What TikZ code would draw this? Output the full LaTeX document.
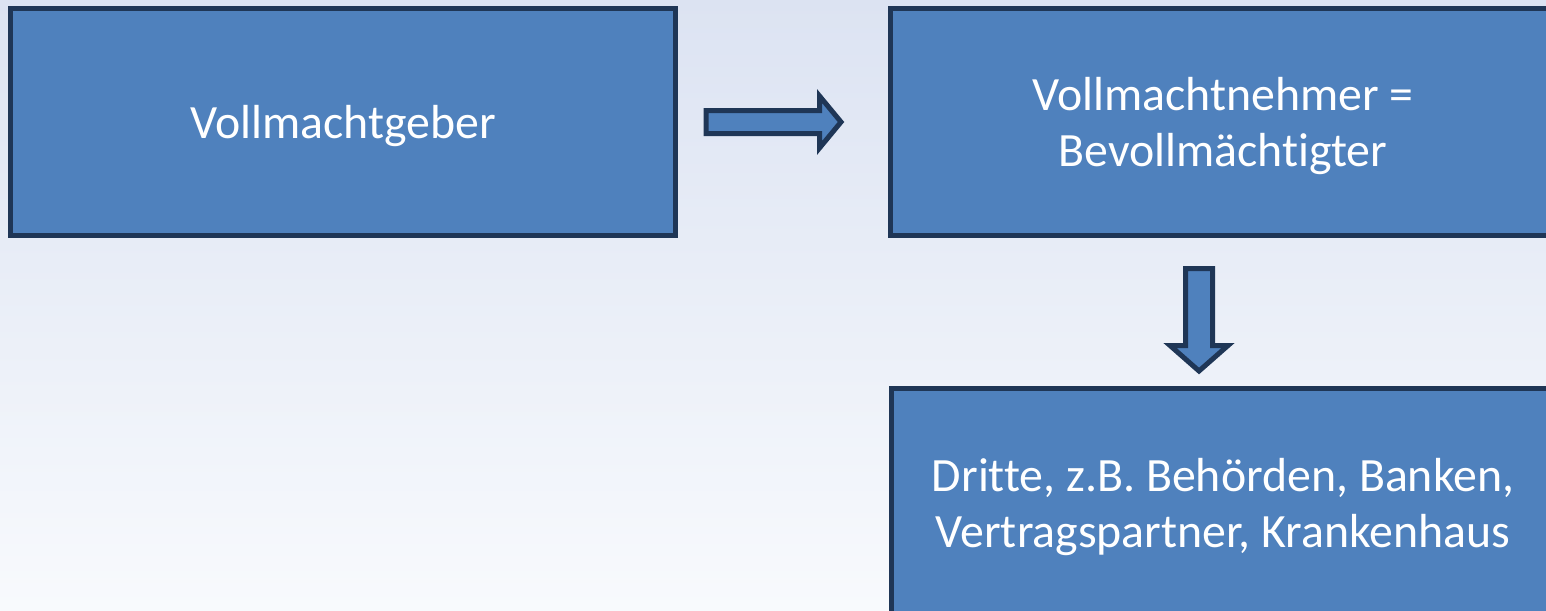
\documentclass[tikz,border=0pt]{standalone}
\usepackage{fontspec}
\setmainfont{Carlito}[Ligatures={NoCommon}]
\definecolor{boxfill}{RGB}{79,129,189}
\definecolor{boxline}{RGB}{31,54,86}
\definecolor{bgtop}{RGB}{220,227,242}
\definecolor{bgbot}{RGB}{248,250,253}
\tikzset{
  box/.style={draw=boxline, fill=boxfill, line width=5pt, minimum width=665pt,
    minimum height=227pt, inner sep=0pt},
  boxtext/.style={inner sep=0pt, align=center, text=white,
    font=\fontsize{47.8}{56}\selectfont},
  blockarrow/.style={draw=boxline, fill=boxfill, line width=5pt, line join=miter}
}
\begin{document}
\begin{tikzpicture}[x=1pt,y=-1pt]
\useasboundingbox (0,0) rectangle (1546,610);
\clip (0,0) rectangle (1546,610);
\shade[top color=bgtop, bottom color=bgbot] (0,0) rectangle (1546,610);
\node[box] (geber) at (343,122) {};
\node[box] (nehmer) at (1223,122) {};
\node[box] (dritte) at (1224,502) {};
\node[boxtext] (gebertext) at ([yshift=-4pt]geber.center) {Vollmachtgeber};
\node[boxtext] (nehmertext) at ([yshift=-4pt]nehmer.center) {Vollmachtnehmer =\\Bevollmächtigter};
\node[boxtext] (drittetext) at ([xshift=-1pt,yshift=-5pt]dritte.center) {Dritte, z.B. Behörden, Banken,\\Vertragspartner, Krankenhaus};
\draw[blockarrow] (706,110.5) -- (819.5,110.5) -- (819.5,96) -- (841,122) -- (819.5,148) -- (819.5,133.5) -- (706,133.5) -- cycle;
\draw[blockarrow] (1185.5,268.5) -- (1212.5,268.5) -- (1212.5,345.5) -- (1228,345.5) -- (1199,371) -- (1170,345.5) -- (1185.5,345.5) -- cycle;
\end{tikzpicture}
\end{document}
